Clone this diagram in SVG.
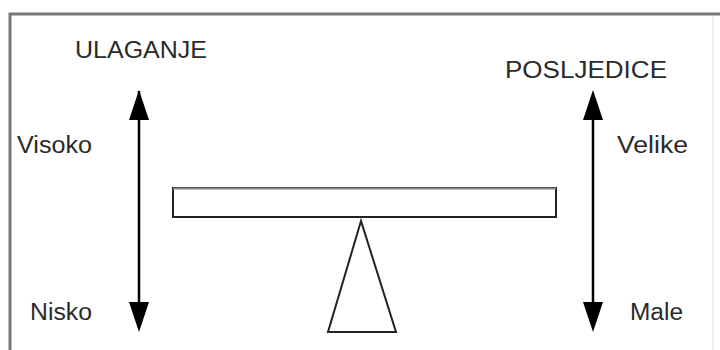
<svg xmlns="http://www.w3.org/2000/svg" width="720" height="350" viewBox="0 0 720 350">
<style>
.lbl{font-family:"Liberation Sans",Arial,sans-serif;font-size:23px;fill:#2a2a2a}
.ar{stroke:#000;stroke-width:2.5;fill:none}
.shape{fill:#fff;stroke:#222;stroke-width:2}
</style>
<defs>
<marker id="ah" markerWidth="20" markerHeight="30" refX="0" refY="10" orient="auto" markerUnits="userSpaceOnUse" viewBox="0 0 30 20">
<path d="M0,0 L30,10 L0,20 Z" fill="#000"/>
</marker>
</defs>
<rect width="720" height="350" fill="#fff"/>
<g id="frame">
<path d="M10,352 L10,14 L720,14" fill="none" stroke="#777" stroke-width="3"/>
<line x1="713" y1="16" x2="713" y2="350" stroke="#ddd" stroke-width="1"/>
</g>
<g id="labels">
<text class="lbl" x="75" y="58" textLength="132" lengthAdjust="spacingAndGlyphs">ULAGANJE</text>
<text class="lbl" x="17" y="153" textLength="75" lengthAdjust="spacingAndGlyphs">Visoko</text>
<text class="lbl" x="30" y="320" textLength="62" lengthAdjust="spacingAndGlyphs">Nisko</text>
<text class="lbl" x="505" y="78" textLength="162" lengthAdjust="spacingAndGlyphs">POSLJEDICE</text>
<text class="lbl" x="617" y="153" textLength="71" lengthAdjust="spacingAndGlyphs">Velike</text>
<text class="lbl" x="630" y="320" textLength="53" lengthAdjust="spacingAndGlyphs">Male</text>
</g>
<g id="connectors">
<path d="M139,120 L139,91" class="ar"/>
<polygon points="139,90 129,120 149,120" fill="#000"/>
<path d="M139,120 L139,303" class="ar"/>
<polygon points="139,332 129,302 149,302" fill="#000"/>
<path d="M593,120 L593,303" class="ar"/>
<polygon points="593,90 583,120 603,120" fill="#000"/>
<polygon points="593,332 583,302 603,302" fill="#000"/>
</g>
<g id="beam">
<rect x="173" y="188" width="383" height="29" class="shape"/>
<line x1="173" y1="188.5" x2="556" y2="188.5" stroke="#888" stroke-width="2"/>
</g>
<g id="fulcrum">
<polygon points="361,221 328,332 396,332" class="shape"/>
</g>
</svg>
